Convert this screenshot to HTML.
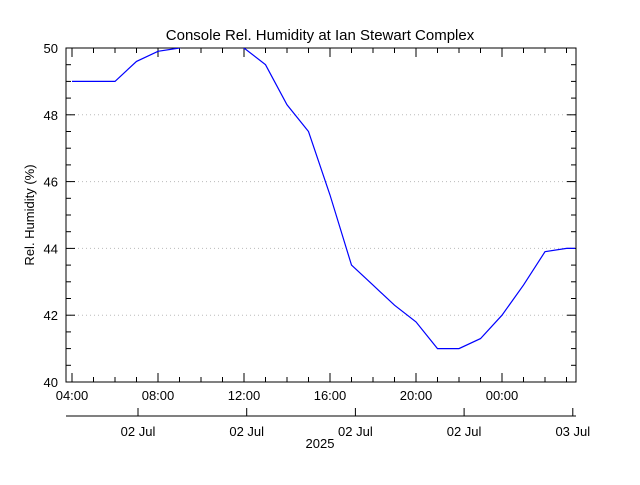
<!DOCTYPE html>
<html><head><meta charset="utf-8"><style>
body{margin:0;background:#fff}
svg text{font-family:"Liberation Sans",sans-serif;font-size:13px;fill:#000}
</style></head><body>
<svg id="chart" width="640" height="480" xmlns="http://www.w3.org/2000/svg">
<rect width="640" height="480" fill="#fff"/>
<text x="320" y="40" text-anchor="middle" font-size="15" style="font-size:15px">Console Rel. Humidity at Ian Stewart Complex</text>
<text transform="translate(34,215) rotate(-90)" text-anchor="middle">Rel. Humidity (%)</text>
<defs><clipPath id="clip"><rect x="66" y="48" width="510" height="334"/></clipPath></defs>
<g id="grid"></g><g id="axes"></g>
<path id="line" fill="none" stroke="#0000ff" stroke-width="1.2" clip-path="url(#clip)"/>
</svg>
<script>
const hours=[0,1,2,3,4,5,6,7,8,9,10,11,12,13,14,15,16,17,18,19,20,21,22,23,23.4];
const humidity=[49.0,49.0,49.0,49.6,49.9,50.0,50.3,50.4,50.0,49.5,48.3,47.5,45.6,43.5,42.9,42.3,41.8,41.0,41.0,41.3,42.0,42.9,43.9,44.0,44.0];
const yTicks=[40,42,44,46,48,50];
const xTickLabels=["04:00","08:00","12:00","16:00","20:00","00:00"];
const dateLabels=["02 Jul","02 Jul","02 Jul","02 Jul","03 Jul"];
const L=66,R=576,T=48,B=382;
const x=h=>72+h*21.5;
const y=v=>B-(v-40)*(B-T)/10;
const ns="http://www.w3.org/2000/svg";
const ax=document.getElementById('axes'),gr=document.getElementById('grid');
function mk(p,tag,a,txt){const e=document.createElementNS(ns,tag);for(const k in a)e.setAttribute(k,a[k]);if(txt!==undefined)e.textContent=txt;p.appendChild(e);return e;}
let e=mk(ax,'rect',{x:L,y:T,width:R-L,height:B-T,fill:'none',stroke:'#000'});


for(let v=40;v<=50;v+=0.5){const major=v%2===0;const len=major?9:5;
mk(ax,'line',{x1:L,x2:L+len,y1:y(v),y2:y(v),stroke:'#000'});
mk(ax,'line',{x1:R,x2:R-len,y1:y(v),y2:y(v),stroke:'#000'});}
yTicks.forEach(v=>{
if(v>40&&v<50){const g=mk(gr,'line',{x1:L,x2:R,y1:y(v),y2:y(v),stroke:'#bbb','stroke-dasharray':'1,3'});

}
const t=mk(ax,'text',{x:L-8,y:y(v)+5,'text-anchor':'end'},v);

});
for(let h=0;h<=23;h++){const major=h%4===0;const len=major?9:5;
mk(ax,'line',{x1:x(h),x2:x(h),y1:B,y2:B-len,stroke:'#000'});
mk(ax,'line',{x1:x(h),x2:x(h),y1:T,y2:T+len,stroke:'#000'});}
xTickLabels.forEach((s,i)=>{const t=mk(ax,'text',{x:x(i*4),y:B+18,'text-anchor':'middle'},s);

});
mk(ax,'line',{x1:L,x2:R,y1:416,y2:416,stroke:'#000'});
dateLabels.forEach((s,i)=>{const px=138+i*108.7;
mk(ax,'line',{x1:px,x2:px,y1:416,y2:408,stroke:'#000'});
const t=mk(ax,'text',{x:px,y:436,'text-anchor':'middle'},s);

});
const yr=mk(ax,'text',{x:320,y:448,'text-anchor':'middle'},'2025');


document.getElementById('line').setAttribute('d',hours.map((h,i)=>(i?'L':'M')+x(h).toFixed(1)+','+y(humidity[i]).toFixed(1)).join(''));
</script>
</body></html>
